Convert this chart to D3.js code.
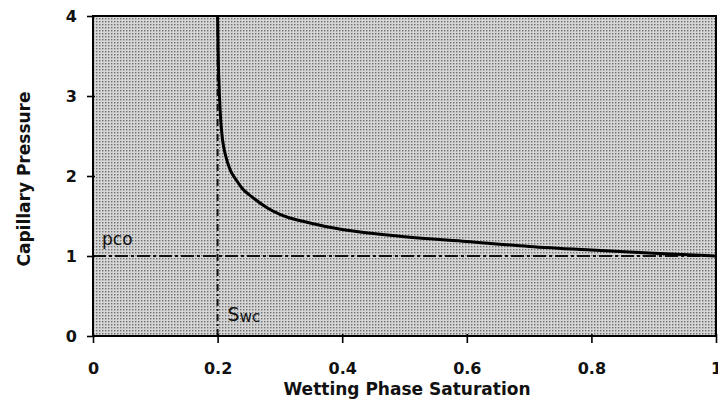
<!DOCTYPE html>
<html lang="en">
<head>
<meta charset="UTF-8">
<title>Capillary Pressure</title>
<script src="https://cdn.jsdelivr.net/npm/d3@7"></script>
<style>
  body { margin: 0; background: #fff; }
  text { font-family: "DejaVu Sans", sans-serif; fill: #111; }
</style>
</head>
<body>
<div id="grafica"></div>
<script>
// data
const swTicks = [0, 0.2, 0.4, 0.6, 0.8, 1]
const pcTicks = [0, 1, 2, 3, 4]
const sw = [0.2, 0.201, 0.203, 0.205, 0.208, 0.213, 0.22, 0.23, 0.24, 0.255, 0.28, 0.3, 0.35, 0.4, 0.45, 0.5, 0.6, 0.7, 0.8, 0.9, 1.0]
const pc = [4.0, 3.5, 3.0, 2.7, 2.45, 2.25, 2.08, 1.95, 1.84, 1.74, 1.6, 1.52, 1.41, 1.33, 1.28, 1.24, 1.18, 1.12, 1.075, 1.035, 1.0]
const swc = 0.2
const pco = 1

const ancho = 718, alto = 409
const m = {top: 16, right: 2, bottom: 73, left: 93}

const svg = d3.select('#grafica').append('svg')
  .attr('width', ancho)
  .attr('height', alto)

// stipple fill
const defs = svg.append('defs')
const pat = defs.append('pattern')
  .attr('id', 'stipple')
  .attr('width', 3).attr('height', 3)
  .attr('patternUnits', 'userSpaceOnUse')
pat.append('rect').attr('width', 3).attr('height', 3).attr('fill', '#d6d6d6')
pat.append('rect').attr('x', 0).attr('y', 0).attr('width', 1.4).attr('height', 1.4).attr('fill', '#6e6e6e')

const x = d3.scaleLinear().domain([0, 1]).range([m.left, ancho - m.right])
const y = d3.scaleLinear().domain([0, 4]).range([alto - m.bottom, m.top])

svg.append('rect')
  .attr('x', x(0)).attr('y', y(4))
  .attr('width', x(1) - x(0)).attr('height', y(0) - y(4))
  .attr('fill', 'url(#stipple)')

// reference lines
svg.append('line')
  .attr('x1', x(0)).attr('x2', x(1))
  .attr('y1', y(pco)).attr('y2', y(pco))
  .attr('stroke', '#111').attr('stroke-width', 2)
  .attr('stroke-dasharray', '13,3,3,3')
svg.append('line')
  .attr('x1', x(swc)).attr('x2', x(swc))
  .attr('y1', y(0)).attr('y2', y(4))
  .attr('stroke', '#111').attr('stroke-width', 2)
  .attr('stroke-dasharray', '7,3,2,3')

// curve
const pts = sw.map((s, i) => [s, pc[i]])
const line = d3.line()
  .x(d => x(d[0]))
  .y(d => y(d[1]))
  .curve(d3.curveMonotoneX)
svg.append('path')
  .attr('d', line(pts))
  .attr('fill', 'none')
  .attr('stroke', '#000')
  .attr('stroke-width', 3)

// frame
svg.append('rect')
  .attr('x', x(0)).attr('y', y(4))
  .attr('width', x(1) - x(0)).attr('height', y(0) - y(4))
  .attr('fill', 'none').attr('stroke', '#000').attr('stroke-width', 2)

// axes
const xAxis = svg.append('g')
  .attr('transform', `translate(0,${y(0)})`)
  .call(d3.axisBottom(x).tickValues(swTicks).tickFormat(d3.format('')).tickSizeInner(7).tickSizeOuter(0).tickPadding(20))
const yAxis = svg.append('g')
  .attr('transform', `translate(${x(0)},0)`)
  .call(d3.axisLeft(y).tickValues(pcTicks).tickFormat(d3.format('d')).tickSizeInner(6).tickSizeOuter(0).tickPadding(10))

;[xAxis, yAxis].forEach(g => {
  g.select('.domain').remove()
  g.selectAll('line').attr('stroke', '#000').attr('stroke-width', 1.6)
  g.selectAll('text')
    .attr('fill', '#111')
    .style('font-size', '16px')
    .style('font-weight', 'bold')
})
xAxis.selectAll('.tick line').attr('y1', -2)
yAxis.selectAll('.tick line').attr('x1', 2)

// titles
svg.append('text')
  .attr('x', 407).attr('y', 395)
  .attr('text-anchor', 'middle')
  .style('font-size', '17px').style('font-weight', 'bold')
  .text('Wetting Phase Saturation')
svg.append('text')
  .attr('transform', 'translate(30,179) rotate(-90)')
  .attr('text-anchor', 'middle')
  .style('font-size', '17px').style('font-weight', 'bold')
  .text('Capillary Pressure')

// labels
svg.append('text')
  .attr('x', x(0) + 9).attr('y', y(pco) - 11)
  .style('font-size', '17px')
  .text('pco')
const swcLab = svg.append('text')
  .attr('x', x(swc) + 10).attr('y', y(0) - 15)
swcLab.append('tspan').style('font-size', '19px').text('S')
swcLab.append('tspan').style('font-size', '15px').attr('dy', 1).text('wc')
</script>
</body>
</html>
